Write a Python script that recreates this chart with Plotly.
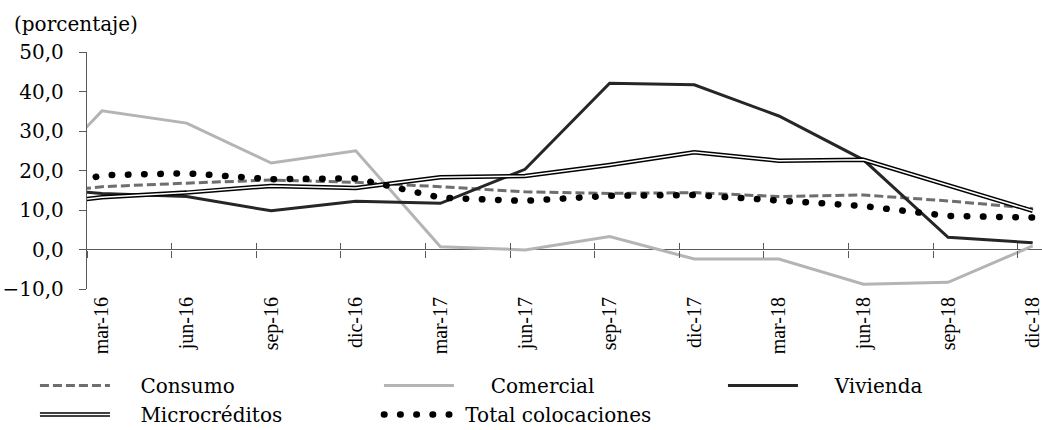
import plotly.graph_objects as go

# Quarterly growth of credit placements (%); "dic-15" only feeds the segment
# entering the plot at the left edge.
periods = ["dic-15", "mar-16", "jun-16", "sep-16", "dic-16", "mar-17", "jun-17",
           "sep-17", "dic-17", "mar-18", "jun-18", "sep-18", "dic-18"]
tick_labels = periods[1:]

consumo = [13.6, 15.9, 16.8, 17.6, 17.0, 15.9, 14.6, 14.2, 14.4, 13.4, 13.8, 12.3, 10.4]
comercial = [12.5, 35.1, 32.0, 21.9, 25.0, 0.7, -0.1, 3.3, -2.4, -2.4, -8.8, -8.3, 0.9]
vivienda = [15.9, 14.2, 13.4, 9.8, 12.2, 11.7, 20.3, 42.1, 41.7, 33.8, 22.7, 3.1, 1.7]
microcreditos = [10.9, 13.2, 14.4, 16.1, 15.6, 18.3, 18.6, 21.4, 24.6, 22.5, 22.7, 16.2, 9.8]
total = [13.2, 18.8, 19.3, 17.8, 18.0, 13.1, 12.3, 13.6, 13.8, 12.4, 11.0, 8.5, 8.1]

y_ticks = [-10, 0, 10, 20, 30, 40, 50]

# numeric positions: mar-16 -> 0 ... dic-18 -> 11
xpos = list(range(-1, len(periods) - 1))
label_pos = xpos[1:]
tick_offset = 0.177          # category tick marks sit a bit before each period
x_range = [-tick_offset, 11.11]
mark_pos = [p - tick_offset for p in label_pos]

AXIS = "#5a5a5a"
SERIF = "DejaVu Serif"
TICKFONT = "Liberation Serif"


def pad(text, n):
    """Leading non-breaking spaces to set the legend text away from its symbol."""
    return "\u00a0" * n + text


fig = go.Figure()
fig.add_trace(go.Scatter(x=xpos, y=consumo, name=pad("Consumo", 4), mode="lines",
                         line=dict(color="#6e6e6e", width=3, dash="9px,4px")))
fig.add_trace(go.Scatter(x=xpos, y=comercial, name=pad("Comercial", 5), mode="lines",
                         line=dict(color="#b4b4b4", width=3)))
fig.add_trace(go.Scatter(x=xpos, y=vivienda, name=pad("Vivienda", 5), mode="lines",
                         line=dict(color="#262626", width=3)))
fig.add_trace(go.Scatter(x=xpos, y=microcreditos, name=pad("Microcréditos", 4), mode="lines",
                         legendgroup="micro",
                         line=dict(color="#000000", width=4.5)))
fig.add_trace(go.Scatter(x=xpos, y=microcreditos, name="Microcréditos", mode="lines",
                         legendgroup="micro", showlegend=False, hoverinfo="skip",
                         line=dict(color="#ffffff", width=1.5)))
fig.add_trace(go.Scatter(x=xpos, y=total, name=pad("Total colocaciones", 1), mode="lines",
                         line=dict(color="#000000", width=6.5, dash="0.5px,15.7px")))

zero_frac = (0 - y_ticks[0]) / (y_ticks[-1] - y_ticks[0])
tick_axis = dict(overlaying="x", anchor="free", position=zero_frac, range=x_range,
                 tickmode="array", tickvals=mark_pos, showticklabels=False,
                 showline=False, showgrid=False, zeroline=False, automargin=False,
                 ticklen=7, tickwidth=1.3, tickcolor=AXIS)

fig.update_layout(
    width=1042, height=430,
    margin=dict(l=87, r=0, t=52, b=141, autoexpand=False),
    paper_bgcolor="white", plot_bgcolor="white",
    separators=",.",
    showlegend=True,
    xaxis=dict(range=x_range, tickmode="array", tickvals=label_pos, ticktext=tick_labels,
               tickangle=-90, ticks="", showline=False, showgrid=False, zeroline=False,
               automargin=False, ticklabeloverflow="allow", ticklabelstandoff=3,
               tickfont=dict(family=TICKFONT, size=20, color="#000000")),
    xaxis2=dict(tick_axis, ticks="outside"),
    xaxis3=dict(tick_axis, ticks="inside"),
    yaxis=dict(range=[y_ticks[0], y_ticks[-1]], tickmode="array", tickvals=y_ticks,
               tickformat=".1f", ticks="outside", ticklen=7, tickwidth=1.3, tickcolor=AXIS,
               showline=True, linecolor=AXIS, linewidth=1.3, automargin=False,
               showgrid=False, zeroline=True, zerolinecolor=AXIS, zerolinewidth=1.3,
               ticklabelstandoff=11,
               tickfont=dict(family=SERIF, size=20, color="#000000")),
    legend=dict(orientation="h", x=-0.0545, xanchor="left", y=-0.325, yanchor="top",
                entrywidth=259, entrywidthmode="pixels", itemwidth=70,
                tracegroupgap=0, bgcolor="rgba(0,0,0,0)",
                font=dict(family=SERIF, size=20, color="#000000")),
    annotations=[dict(text="(porcentaje)", xref="paper", yref="paper",
                      x=-0.079, y=1.118, xanchor="left", yanchor="middle",
                      showarrow=False, font=dict(family=SERIF, size=20, color="#000000"))],
)
# empty traces so the tick-mark axes are drawn
fig.add_trace(go.Scatter(x=[None], y=[None], xaxis="x2", showlegend=False, hoverinfo="skip"))
fig.add_trace(go.Scatter(x=[None], y=[None], xaxis="x3", showlegend=False, hoverinfo="skip"))

post = """
var gd = document.getElementById('{plot_id}');
var groups = gd.querySelectorAll('.scatterlayer .trace');
if (groups.length > 5) {
  groups[5].querySelectorAll('path.js-line').forEach(function(p){ p.style.strokeLinecap = 'round'; });
}
gd.querySelectorAll('.legend .traces').forEach(function(t){
  var txt = t.textContent || '';
  var line = t.querySelector('path.js-line');
  if (!line) return;
  if (txt.indexOf('Total') >= 0) { line.style.strokeLinecap = 'round'; }
  if (txt.indexOf('Microcr') >= 0) {
    var inner = line.cloneNode(true);
    inner.style.stroke = '#ffffff';
    inner.style.strokeWidth = '1.5px';
    line.parentNode.appendChild(inner);
  }
});
"""

fig.write_html("out.html", post_script=post)
